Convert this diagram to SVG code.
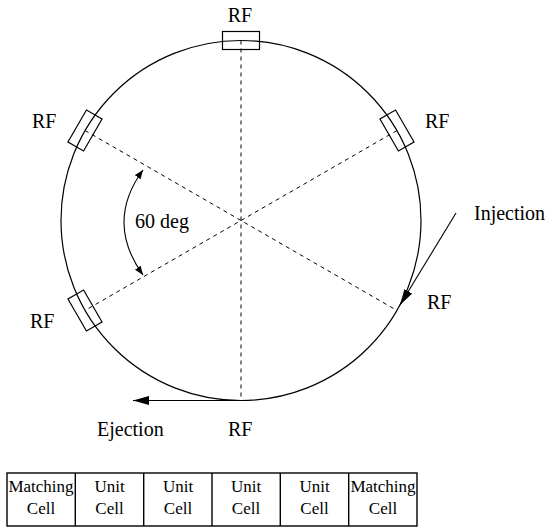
<svg xmlns="http://www.w3.org/2000/svg" width="551" height="527" viewBox="0 0 551 527">
<defs>
<style>
.lbl{font-size:20px}
.cell{font-size:17px;text-anchor:middle}
.ring{fill:none;stroke:#000;stroke-width:1.2}
.dash{fill:none;stroke:#000;stroke-width:1;stroke-dasharray:4 4}
.box{fill:none;stroke:#000;stroke-width:1.2}
.ln{fill:none;stroke:#000;stroke-width:1.1}
.tbl{fill:none;stroke:#000;stroke-width:1.4}
</style>
<marker id="big" markerUnits="userSpaceOnUse" markerWidth="17" markerHeight="9" refX="16" refY="4.5" orient="auto"><path d="M0,0 L16,4.5 L0,9 z" fill="#000"/></marker>
<marker id="small" markerUnits="userSpaceOnUse" markerWidth="10" markerHeight="7" refX="9" refY="3.5" orient="auto-start-reverse"><path d="M0,0 L9,3.5 L0,7 z" fill="#000"/></marker>
</defs>
<g font-family="Liberation Serif, Times New Roman, serif" fill="#000">
<g id="ring"><circle class="ring" cx="241" cy="220.5" r="180"/></g>
<g id="connectors">
<line class="dash" x1="241" y1="40.5" x2="241" y2="400.5"/>
<line class="dash" x1="85" y1="130.5" x2="397" y2="310.5"/>
<line class="dash" x1="397" y1="130.5" x2="85" y2="310.5"/>
<path class="ln" d="M143,170 Q105,222 143,275" marker-start="url(#small)" marker-end="url(#small)"/>
<line class="ln" x1="456" y1="213" x2="400" y2="305" marker-end="url(#big)"/>
<line class="ln" x1="241" y1="400.5" x2="133" y2="400.5" marker-end="url(#big)"/>
</g>
<g id="rf-top"><rect class="box" x="222.5" y="31.5" width="37" height="18"/><text class="lbl" x="240" y="22" text-anchor="middle">RF</text></g>
<g id="rf-upper-left"><rect class="box" x="-18.5" y="-9" width="37" height="18" transform="translate(85,130.5) rotate(-60)"/><text class="lbl" x="32" y="128">RF</text></g>
<g id="rf-upper-right"><rect class="box" x="-18.5" y="-9" width="37" height="18" transform="translate(397,130.5) rotate(60)"/><text class="lbl" x="425" y="128">RF</text></g>
<g id="rf-lower-left"><rect class="box" x="-18.5" y="-9" width="37" height="18" transform="translate(85,310.5) rotate(60)"/><text class="lbl" x="30" y="328">RF</text></g>
<g id="rf-lower-right"><text class="lbl" x="427" y="309">RF</text></g>
<g id="rf-bottom"><text class="lbl" x="228" y="436">RF</text></g>
<g id="injection"><text class="lbl" x="474" y="220">Injection</text></g>
<g id="ejection"><text class="lbl" x="97" y="436">Ejection</text></g>
<g id="angle"><text class="lbl" x="135" y="228">60 deg</text></g>
<g id="cells">
<rect class="tbl" x="7" y="473" width="410" height="53"/>
<line class="tbl" x1="75.3" y1="473" x2="75.3" y2="526"/>
<line class="tbl" x1="143.7" y1="473" x2="143.7" y2="526"/>
<line class="tbl" x1="212" y1="473" x2="212" y2="526"/>
<line class="tbl" x1="280.3" y1="473" x2="280.3" y2="526"/>
<line class="tbl" x1="348.7" y1="473" x2="348.7" y2="526"/>
<text class="cell" x="41" y="492">Matching</text><text class="cell" x="41" y="514">Cell</text>
<text class="cell" x="109.5" y="492">Unit</text><text class="cell" x="109.5" y="514">Cell</text>
<text class="cell" x="178" y="492">Unit</text><text class="cell" x="178" y="514">Cell</text>
<text class="cell" x="246" y="492">Unit</text><text class="cell" x="246" y="514">Cell</text>
<text class="cell" x="314.5" y="492">Unit</text><text class="cell" x="314.5" y="514">Cell</text>
<text class="cell" x="383" y="492">Matching</text><text class="cell" x="383" y="514">Cell</text>
</g>
</g>
</svg>
